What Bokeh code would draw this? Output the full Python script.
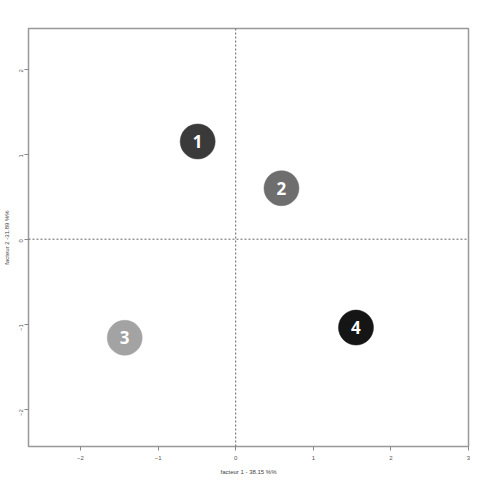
import math
from bokeh.plotting import figure
from bokeh.models import Span, ColumnDataSource, FixedTicker
from bokeh.embed import file_html
from bokeh.resources import INLINE
from bokeh.core.properties import value

labels = ["1", "2", "3", "4"]
fact1 = [-0.49, 0.59, -1.43, 1.55]
fact2 = [1.15, 0.60, -1.16, -1.04]
colors = ["#3b3a3b", "#6f6e6f", "#a3a3a3", "#151515"]
x_ticks = [-2, -1, 0, 1, 2, 3]
y_ticks = [-2, -1, 0, 1, 2]

src = ColumnDataSource(dict(x=fact1, y=fact2, lab=labels, col=colors))

p = figure(width=475, height=477, output_backend="svg", toolbar_location=None,
           x_range=(-2.67, 3.0), y_range=(-2.44, 2.48),
           min_border_left=28, min_border_top=28, min_border_right=7, min_border_bottom=29)
p.grid.visible = False
p.outline_line_color = "#999999"
p.outline_line_width = 1.5

for ax, ticks in ((p.xaxis, x_ticks), (p.yaxis, y_ticks)):
    ax.ticker = FixedTicker(ticks=ticks)
    ax.axis_line_color = None
    ax.major_tick_line_color = "#888888"
    ax.major_tick_out = 4
    ax.major_tick_in = 0
    ax.minor_tick_line_color = None
    ax.major_label_text_font_size = "6px"
    ax.major_label_text_color = "#555555"
    ax.major_label_standoff = 5
    ax.axis_label_text_font_size = "6px"
    ax.axis_label_text_font_style = "normal"
    ax.axis_label_text_color = "#444444"
    ax.axis_label_standoff = 6
    ax.axis_label_text_font = "Liberation Sans"
    ax.major_label_text_font = "Liberation Sans"

p.xaxis.axis_label = "facteur 1 - 38.15 %%"
p.yaxis.axis_label = "facteur 2 -31.89 %%"
p.yaxis.major_label_orientation = math.pi / 2
p.yaxis.major_label_standoff = 3
p.yaxis.axis_label_standoff = 5

p.add_layout(Span(location=0, dimension="height", line_color="#666666", line_dash="2 2", line_width=1))
p.add_layout(Span(location=0, dimension="width", line_color="#666666", line_dash="2 2", line_width=1))

p.scatter("x", "y", source=src, size=35, fill_color="col", line_color="col", line_width=0.5)
p.text("x", "y", text="lab", source=src, text_color="white", text_font=value("Open Sans"),
       text_font_style="bold", text_font_size="17px", text_align="center", text_baseline="middle")

open("out.html", "w").write(file_html(p, INLINE))
